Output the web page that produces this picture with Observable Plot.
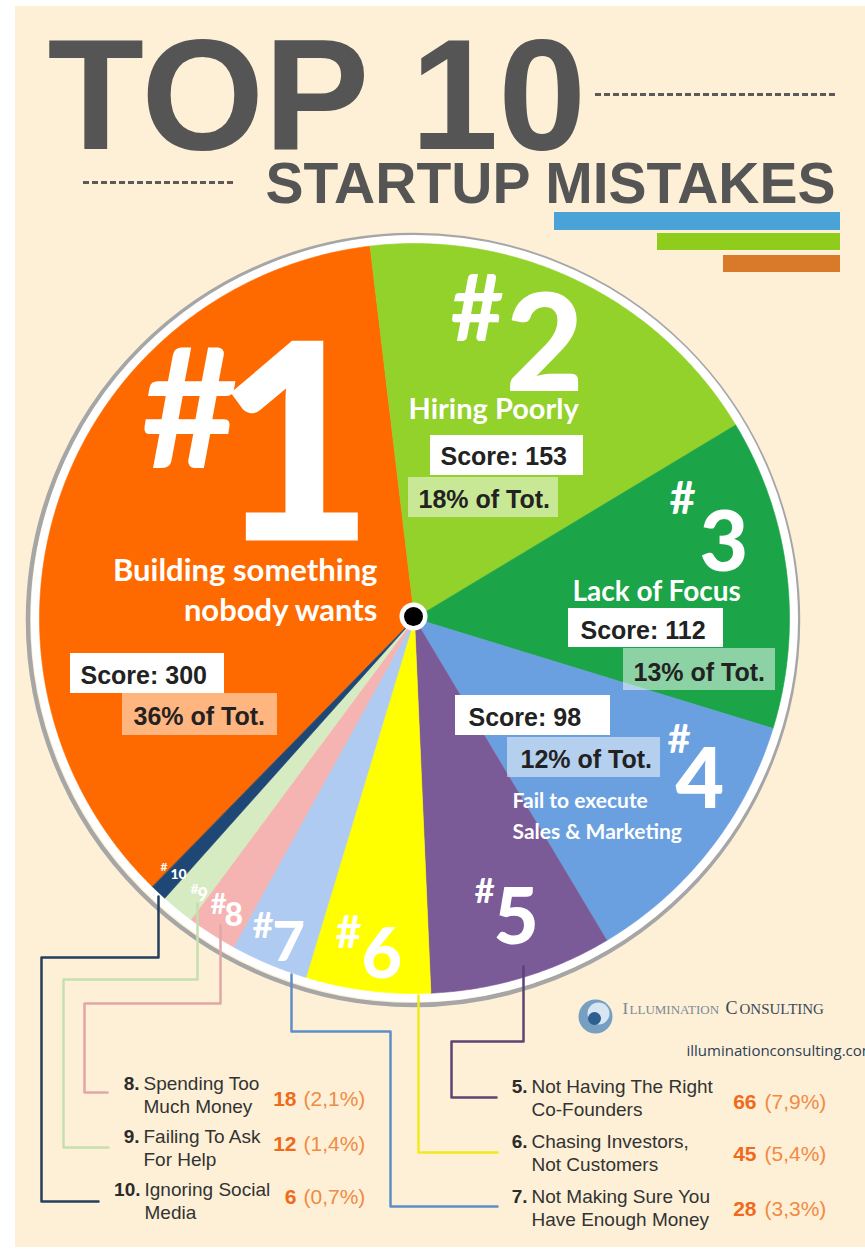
<!DOCTYPE html>
<html><head><meta charset="utf-8">
<script src="https://cdn.jsdelivr.net/npm/d3@7"></script>
<script src="https://cdn.jsdelivr.net/npm/@observablehq/plot@0.6"></script>
<style>body{margin:0;background:#fff;} svg{display:block}</style>
</head><body><div id="chart"></div>
<script>
// ---------- DATA ----------
const ranks = [1, 2, 3, 4, 5, 6, 7, 8, 9, 10];
const mistakes = ["Building something nobody wants", "Hiring Poorly", "Lack of Focus",
  "Fail to execute Sales & Marketing", "Not Having The Right Co-Founders",
  "Chasing Investors, Not Customers", "Not Making Sure You Have Enough Money",
  "Spending Too Much Money", "Failing To Ask For Help", "Ignoring Social Media"];
const scores = [300, 153, 112, 98, 66, 45, 28, 18, 12, 6];
const sliceColors = ["#ff6a00", "#93d12b", "#1ba548", "#6aa0df", "#7a5a97",
  "#ffff00", "#afcbf1", "#f5b3b1", "#d6ebc1", "#1e4775"];
const leaderColors = {5: "#5b4473", 6: "#f1ea1c", 7: "#5d8ec9", 8: "#dea8a8", 9: "#c5dfb0", 10: "#233f60"};
// text lines as printed
const pieNameLines = [["Building something", "nobody wants"], ["Hiring Poorly"], ["Lack of Focus"],
  ["Fail to execute", "Sales & Marketing"]];
const legendLines = {5: "Not Having The Right\nCo-Founders", 6: "Chasing Investors,\nNot Customers",
  7: "Not Making Sure You\nHave Enough Money", 8: "Spending Too\nMuch Money",
  9: "Failing To Ask\nFor Help", 10: "Ignoring Social\nMedia"};
const titleLines = ["TOP 10", "STARTUP MISTAKES"];
const logoWords = ["Illumination", "Consulting"];
const logoUrl = "illuminationconsulting.com";

// ---------- LAYOUT ----------
const W = 865, H = 1258;
const cx = 414, cy = 618, pieR = 375;
const firstBoundaryDeg = -6.8; // boundary between #1 and #2
const total = d3.sum(scores);
const pctOf = s => s / total * 100;

const a0 = (firstBoundaryDeg - scores[0] / total * 360) * Math.PI / 180;
const arcs = d3.pie().sort(null).startAngle(a0).endAngle(a0 + 2 * Math.PI)(scores);
const slicePts = [];
arcs.forEach((a, i) => {
  const n = Math.max(6, Math.ceil((a.endAngle - a.startAngle) / (Math.PI / 360)));
  slicePts.push({rank: ranks[i], color: sliceColors[i], x: cx, y: cy});
  for (let k = 0; k <= n; k++) {
    const t = a.startAngle + (a.endAngle - a.startAngle) * k / n;
    slicePts.push({rank: ranks[i], color: sliceColors[i], x: cx + pieR * Math.sin(t), y: cy - pieR * Math.cos(t)});
  }
});

// hash label layout: [hashX, hashBase, hashSize, numX, numBase, numSize]
const hashLayout = [
  [141, 467, 166, 214, 540, 275],
  [450, 340, 92, 505, 390, 135],
  [669, 513, 45, 699, 570, 84],
  [667, 752, 40, 675, 807, 84],
  [474, 902, 35, 493, 943, 78],
  [335, 947, 45, 361, 977, 70],
  [252, 937, 36, 272, 960, 56],
  [210, 913, 28, 224, 925, 32],
  [190, 893, 14, 197, 900, 18],
  [160, 870, 12, 170, 878, 14]];
const hashRows = ranks.map((r, i) => ({rank: r, hx: hashLayout[i][0], hy: hashLayout[i][1], hs: hashLayout[i][2],
  nx: hashLayout[i][3], ny: hashLayout[i][4], ns: hashLayout[i][5]}));

// pie name lines layout: [x, baseline, anchor, size, width]
const pieNameLayout = [
  [[377, 580, "end", 31, 305], [377, 620, "end", 31, 226]],
  [[408, 418, "start", 29, 205]],
  [[572, 600, "start", 28, 191]],
  [[512, 807, "start", 21, 155], [512, 838, "start", 21, 195]]];
const pieNameRows = [];
pieNameLines.forEach((lines, i) => lines.forEach((t, j) => {
  const L = pieNameLayout[i][j];
  pieNameRows.push({text: t, x: L[0], y: L[1], anchor: L[2], size: L[3], width: L[4]});
}));

// score boxes: [sx1,sx2,sy1,sy2, tx, tBase,  px1,px2,py1,py2, ptx, ptBase]
const boxLayout = [
  [70, 224, 653, 693, 80, 683, 122, 277, 693, 735, 133, 724],
  [430, 583, 435, 475, 440, 464, 408, 558, 477, 517, 418, 507],
  [568, 723, 608, 647, 580, 638, 623, 775, 648, 690, 633, 680],
  [455, 610, 695, 735, 468, 725, 507, 660, 737, 777, 520, 767]];
const boxRows = boxLayout.map((b, i) => ({
  score: `Score: ${scores[i]}`, pct: `${Math.round(pctOf(scores[i]))}% of Tot.`,
  sx1: b[0], sx2: b[1], sy1: b[2], sy2: b[3], tx: b[4], ty: b[5],
  px1: b[6], px2: b[7], py1: b[8], py2: b[9], ptx: b[10], pty: b[11]}));

// leader lines (polylines from the rim to the legend)
const leaderLayout = {
  10: [[158, 896], [158, 957], [41, 957], [41, 1201], [98, 1201]],
  9: [[197, 903], [197, 979], [63, 979], [63, 1147], [108, 1147]],
  8: [[220, 925], [220, 1003], [84, 1003], [84, 1092], [107, 1092]],
  7: [[291, 974], [291, 1031], [390, 1031], [390, 1206], [497, 1206]],
  6: [[418, 995], [418, 1152], [497, 1152]],
  5: [[523, 966], [523, 1041], [451, 1041], [451, 1097], [496, 1097]]};
const leaderPts = [];
for (const r of [5, 6, 7, 8, 9, 10]) leaderLayout[r].forEach(([x, y]) => leaderPts.push({rank: r, x, y, color: leaderColors[r]}));

// legend layout: rank -> [rankRightX, descX, line2Base, numRightX, pctX, numBase]
const legendLayout = {
  8: [139, 143, 1112, 296, 303, 1105],
  9: [139, 143, 1165, 296, 303, 1150],
  10: [140, 144, 1218, 296, 303, 1203],
  5: [527, 531, 1115, 756, 764, 1108],
  6: [527, 531, 1170, 756, 764, 1160],
  7: [527, 531, 1225, 756, 764, 1215]};
const legendRows = [5, 6, 7, 8, 9, 10].map(r => {
  const L = legendLayout[r], s = scores[r - 1];
  return {rank: `${r}.`, desc: legendLines[r], num: `${s}`,
    pct: `(${pctOf(s).toFixed(1).replace(".", ",")}%)`,
    rx: L[0], dx: L[1], dy2: L[2], line1: L[2] - 23, nx: L[3], px: L[4], ny: L[5]};
});

const titleBars = [
  {x1: 554, x2: 840, y1: 212, y2: 230, fill: "#4aa3d6"},
  {x1: 657, x2: 840, y1: 233, y2: 250, fill: "#8fcc1c"},
  {x1: 723, x2: 840, y1: 255, y2: 272, fill: "#d97a2b"}];
const titleDashes = [{y: 94, x1: 595, x2: 838}, {y: 182, x1: 83, x2: 236}];

// logo pieces: initial capital + rest in smaller capitals
const logoParts = [
  {t: logoWords[0][0].toUpperCase(), x: 622, size: 17, fill: "#7d8895", spacing: 0},
  {t: logoWords[0].slice(1).toUpperCase(), x: 629, size: 13, fill: "#7d8895", spacing: 0.6},
  {t: logoWords[1][0].toUpperCase(), x: 725, size: 18, fill: "#3c4858", spacing: 0},
  {t: logoWords[1].slice(1).toUpperCase(), x: 739, size: 15, fill: "#3c4858", spacing: 3.5}];

const LATO = "Lato, 'Open Sans', sans-serif";
const ARIAL = "'Liberation Sans', Arial, sans-serif";
const SERIF = "'Liberation Serif', 'DejaVu Serif', serif";

const plot = Plot.plot({
  width: W, height: H, margin: 0,
  x: {domain: [0, W], range: [0, W], axis: null},
  y: {domain: [0, H], range: [0, H], axis: null},
  color: {type: "identity"},
  style: {background: "#ffffff", overflow: "hidden"},
  marks: [
    // page background
    Plot.rect([{x1: 15, x2: W, y1: 6, y2: 1247}], {x1: "x1", x2: "x2", y1: "y1", y2: "y2", fill: "#fdf0d6"}),
    // title
    Plot.ruleY(titleDashes, {y: "y", x1: "x1", x2: "x2", stroke: "#5a5a5a", strokeWidth: 3, strokeDasharray: "6,3"}),
    Plot.text([titleLines[0]], {x: 47, y: 148, text: d => d, textAnchor: "start", lineAnchor: "bottom",
      fontSize: 158, fontWeight: "bold", fontFamily: ARIAL, fill: "#555555", ariaLabel: "title-top"}),
    Plot.text([titleLines[1]], {x: 265, y: 202, text: d => d, textAnchor: "start", lineAnchor: "bottom",
      fontSize: 57, fontWeight: "bold", fontFamily: ARIAL, fill: "#555555", ariaLabel: "title-sub"}),
    Plot.rect(titleBars, {x1: "x1", x2: "x2", y1: "y1", y2: "y2", fill: "fill"}),
    // pie rings
    Plot.dot([0], {x: cx - 1.5, y: cy + 1.5, r: pieR + 10, stroke: "#a6a6a6", strokeWidth: 4.5, fill: "none"}),
    Plot.dot([0], {x: cx, y: cy, r: pieR + 4, stroke: "#ffffff", strokeWidth: 9, fill: "none"}),
    // slices
    Plot.line(slicePts, {x: "x", y: "y", z: "rank", fill: "color", stroke: "color", strokeWidth: 0.6, curve: "linear-closed"}),
    // center
    Plot.dot([0], {x: cx - 1, y: cy - 2, r: 14, fill: "#ffffff"}),
    Plot.dot([0], {x: cx - 1, y: cy - 2, r: 9.5, fill: "#000000"}),
    // leaders
    Plot.line(leaderPts, {x: "x", y: "y", z: "rank", stroke: "color", strokeWidth: 2.5, curve: "linear"}),
    // score boxes
    Plot.rect(boxRows, {x1: "sx1", x2: "sx2", y1: "sy1", y2: "sy2", fill: "#ffffff"}),
    Plot.rect(boxRows, {x1: "px1", x2: "px2", y1: "py1", y2: "py2", fill: "#ffffff", fillOpacity: 0.5}),
    Plot.text(boxRows, {x: "tx", y: "ty", text: "score", textAnchor: "start", lineAnchor: "bottom",
      fontSize: 25, fontWeight: "bold", fontFamily: ARIAL, fill: "#222222"}),
    Plot.text(boxRows, {x: "ptx", y: "pty", text: "pct", textAnchor: "start", lineAnchor: "bottom",
      fontSize: 25, fontWeight: "bold", fontFamily: ARIAL, fill: "#222222"}),
    // hash labels
    Plot.text(hashRows, {x: "hx", y: "hy", text: () => "#", fontSize: "hs", textAnchor: "start", lineAnchor: "bottom",
      fontWeight: "bold", fontFamily: LATO, fill: "#ffffff", ariaLabel: "shadow-text"}),
    Plot.text(hashRows, {x: "nx", y: "ny", text: d => String(d.rank), fontSize: "ns", textAnchor: "start", lineAnchor: "bottom",
      fontWeight: 900, fontFamily: LATO, fill: "#ffffff", ariaLabel: "shadow-text"}),
    // pie names
    ...pieNameRows.map(row => Plot.text([row], {x: "x", y: "y", text: "text", textAnchor: row.anchor, lineAnchor: "bottom",
      fontSize: row.size, fontWeight: "bold", fontFamily: LATO, fill: "#ffffff", ariaLabel: "pie-name"})),
    // legend
    Plot.text(legendRows, {x: "rx", y: "line1", text: "rank", textAnchor: "end", lineAnchor: "bottom",
      fontSize: 19, fontWeight: "bold", fontFamily: ARIAL, fill: "#2b2b2b"}),
    Plot.text(legendRows, {x: "dx", y: "dy2", text: "desc", textAnchor: "start", lineAnchor: "bottom", lineHeight: 1.2,
      fontSize: 19, fontFamily: ARIAL, fill: "#333333"}),
    Plot.text(legendRows, {x: "nx", y: "ny", text: "num", textAnchor: "end", lineAnchor: "bottom",
      fontSize: 21, fontWeight: "bold", fontFamily: ARIAL, fill: "#f06a1c"}),
    Plot.text(legendRows, {x: "px", y: "ny", text: "pct", textAnchor: "start", lineAnchor: "bottom",
      fontSize: 21, fontFamily: ARIAL, fill: "#f28a44"}),
    // logo
    Plot.dot([0], {x: 595, y: 1016, r: 17, fill: "#5e90bd", fillOpacity: 0.85}),
    Plot.dot([0], {x: 598, y: 1013, r: 11, fill: "#d7e6f2"}),
    Plot.dot([0], {x: 594, y: 1018, r: 6.5, fill: "#2d5f8f"}),
    ...logoParts.map(p => Plot.text([p], {x: "x", y: () => 1013, text: "t", textAnchor: "start", lineAnchor: "bottom",
      fontSize: p.size, fontFamily: SERIF, fill: p.fill, ariaLabel: "logo-part"})),
    Plot.text([logoUrl], {x: 686, y: 1055, text: d => d, textAnchor: "start", lineAnchor: "bottom",
      fontSize: 15, fontFamily: "'Open Sans', sans-serif", fill: "#2d3e55"})
  ]
});

const sel = d3.select(plot);
sel.select('g[aria-label="title-top"] text').attr("textLength", 521).attr("lengthAdjust", "spacingAndGlyphs");
sel.select('g[aria-label="title-sub"] text').attr("textLength", 575).attr("lengthAdjust", "spacingAndGlyphs");
sel.selectAll('g[aria-label="logo-part"]').each(function(_, i) {
  d3.select(this).select("text").style("letter-spacing", logoParts[i].spacing + "px");
});
sel.selectAll('g[aria-label="pie-name"]').each(function(_, i) {
  d3.select(this).select("text").attr("textLength", pieNameRows[i].width).attr("lengthAdjust", "spacingAndGlyphs");
});
sel.selectAll('g[aria-label="shadow-text"], g[aria-label="pie-name"]')
  .style("filter", "drop-shadow(1.5px 2.5px 1.5px rgba(0,0,0,0.45))");
document.getElementById("chart").appendChild(plot);
</script>
</body></html>
